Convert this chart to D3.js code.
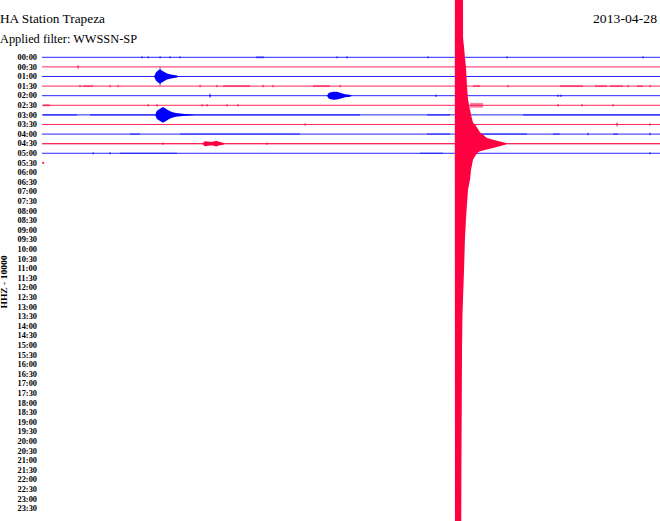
<!DOCTYPE html>
<html>
<head>
<meta charset="utf-8">
<script src="https://cdn.jsdelivr.net/npm/d3@7/dist/d3.min.js"></script>
<style>
  body { margin: 0; background: #fff; }
  text { fill: #000; }
</style>
</head>
<body>
<div id="heli"></div>
<script>
// helicorder rows, 30 minutes per line
var rowLabels = ["00:00","00:30","01:00","01:30","02:00","02:30","03:00","03:30","04:00","04:30",
  "05:00","05:30","06:00","06:30","07:00","07:30","08:00","08:30","09:00","09:30",
  "10:00","10:30","11:00","11:30","12:00","12:30","13:00","13:30","14:00","14:30",
  "15:00","15:30","16:00","16:30","17:00","17:30","18:00","18:30","19:00","19:30",
  "20:00","20:30","21:00","21:30","22:00","22:30","23:00","23:30"];

// minutes of data recorded in each row (rest of the day is empty)
var recorded = [30, 30, 30, 30, 30, 30, 30, 30, 30, 30, 30, 0.12];

// local events: [minute, half amplitude in row units]
var event0100 = [[5.44,0],[5.53,0.42],[5.63,0.63],[5.7,0.7],[5.73,1.04],[5.76,0.7],[5.83,0.6],[5.92,0.5],[6.07,0.31],[6.26,0.2],[6.55,0.1],[6.65,0]];
var event0200 = [[13.83,0],[13.93,0.31],[14.13,0.42],[14.32,0.4],[14.51,0.28],[14.71,0.16],[14.95,0.1],[15.05,0]];
var event0300 = [[5.49,0],[5.58,0.42],[5.73,0.63],[5.87,0.83],[6.02,0.63],[6.17,0.42],[6.31,0.3],[6.5,0.2],[6.94,0.1],[7.28,0.05],[7.38,0]];
var event0430 = [[7.77,0],[7.91,0.26],[8.16,0.2],[8.3,0.2],[8.45,0.3],[8.59,0.2],[8.79,0.1],[8.88,0]];

// the big one in the 04:30 row: [minute, amplitude up, amplitude down]
var quake = [[20.04,0,0],[20.05,60,60],[20.32,60,60],[20.36,60,34],[20.39,60,21.5],[20.41,60,18],
  [20.44,11,16],[20.49,10,13],[20.53,9,10],[20.58,8,7.9],[20.63,6,6.3],[20.68,4.6,4.8],
  [20.78,3.5,3.7],[20.83,3,2.7],[20.92,2.2,1.7],[21.02,2,1.3],[21.17,1.5,0.9],[21.26,1.2,0.8],
  [21.6,0.6,0.6],[21.99,0.35,0.4],[22.48,0.1,0.1],[22.57,0,0]];

// background noise bursts: [row, from minute, to minute, half amplitude]
var noiseSegs = [
  [0,10.39,10.78,0.1],
  [3,1.99,2.48,0.1],[3,8.79,10.1,0.1],[3,13.15,13.98,0.1],[3,20.92,21.26,0.1],[3,25.14,26.26,0.1],
  [3,26.84,27.43,0.1],[3,27.57,28.2,0.1],[3,28.88,29.17,0.1],
  [5,0.05,0.39,0.1],[5,20.78,21.41,0.25],
  [6,0.05,1.7,0.09],[6,2.33,5.49,0.09],[6,6.5,15.44,0.09],[6,18.69,19.8,0.09],[6,23.35,24.17,0.09],[6,24.17,30,0.09],
  [8,4.27,4.76,0.08],[8,6.7,12.52,0.08],[8,18.69,19.8,0.08],[8,21.26,23.54,0.08],[8,24.8,25.14,0.08],[8,27.72,27.96,0.08],
  [9,0,30,0.07],
  [10,3.79,6.55,0.07],[10,18.35,19.47,0.07]
];

// isolated spikes: [row, minute, half amplitude]
var spikes = [
  [0,4.85,0.1],[0,5.15,0.1],[0,5.73,0.1],[0,6.21,0.1],[0,6.7,0.1],[0,14.32,0.1],[0,14.8,0.1],[0,18.74,0.1],[0,22.57,0.1],[0,29.17,0.1],
  [1,1.75,0.18],
  [3,1.84,0.12],[3,3.3,0.12],[3,3.69,0.12],[3,7.67,0.12],[3,8.49,0.12],[3,10.73,0.12],[3,11.21,0.12],[3,14.47,0.12],[3,22.62,0.12],[3,28.45,0.12],[3,29.51,0.12],
  [4,8.15,0.2],[4,19.13,0.12],[4,25.05,0.12],[4,25.19,0.12],
  [5,5.15,0.12],[5,5.58,0.12],[5,7.77,0.12],[5,8.01,0.12],[5,8.98,0.12],[5,9.51,0.12],[5,25.05,0.12],[5,26.21,0.12],[5,27.72,0.12],
  [7,12.77,0.12],[7,27.91,0.2],[7,29.51,0.12],
  [8,26.5,0.12],[8,29.51,0.12],
  [9,5.87,0.12],[9,10.92,0.12],
  [10,2.48,0.1],[10,3.3,0.1],[10,29.51,0.1],
  [11,0.05,0.12]
];

var width = 660, height = 521;
var blue = "#0000ff", red = "#ff0040";

var svg = d3.select("#heli").append("svg")
    .attr("width", width)
    .attr("height", height);

var x = d3.scaleLinear().domain([0, 30]).range([42, 660]);
var y = d3.scaleLinear().domain([0, 47]).range([57.3, 508.4]);
var step = y(1) - y(0);

function rowColor(r) {
    return r % 2 ? red : blue;
}

// header
svg.append("text")
    .attr("x", 0).attr("y", 22.5)
    .attr("font-family", "Liberation Serif")
    .attr("font-size", 13)
    .attr("textLength", 105)
    .attr("lengthAdjust", "spacingAndGlyphs")
    .text("HA Station Trapeza");

svg.append("text")
    .attr("x", 0).attr("y", 42.5)
    .attr("font-family", "Liberation Serif")
    .attr("font-size", 13)
    .attr("textLength", 137)
    .attr("lengthAdjust", "spacingAndGlyphs")
    .text("Applied filter: WWSSN-SP");

svg.append("text")
    .attr("x", 593).attr("y", 22.5)
    .attr("font-family", "Liberation Serif")
    .attr("font-size", 13)
    .attr("textLength", 64)
    .attr("lengthAdjust", "spacingAndGlyphs")
    .text("2013-04-28");

// row labels
svg.append("g").selectAll("text")
    .data(rowLabels)
    .enter().append("text")
    .attr("x", 37)
    .attr("y", function(d, i) { return y(i); })
    .attr("dy", "0.35em")
    .attr("text-anchor", "end")
    .attr("font-family", "Liberation Serif")
    .attr("font-weight", "bold")
    .attr("font-size", 8)
    .attr("textLength", 19.5)
    .attr("lengthAdjust", "spacingAndGlyphs")
    .text(function(d) { return d; });

svg.append("text")
    .attr("transform", "translate(7,282) rotate(-90)")
    .attr("text-anchor", "middle")
    .attr("font-family", "Liberation Serif")
    .attr("font-weight", "bold")
    .attr("font-size", 8)
    .attr("textLength", 53)
    .attr("lengthAdjust", "spacingAndGlyphs")
    .text("HHZ - 10000");

// base traces
svg.append("g").selectAll("line")
    .data(recorded)
    .enter().append("line")
    .attr("x1", x(0))
    .attr("x2", function(d) { return x(d); })
    .attr("y1", function(d, i) { return y(i); })
    .attr("y2", function(d, i) { return y(i); })
    .attr("stroke", function(d, i) { return rowColor(i); })
    .attr("stroke-opacity", 0.85)
    .attr("stroke-width", 1);

// noise
svg.append("g").selectAll("rect")
    .data(noiseSegs)
    .enter().append("rect")
    .attr("x", function(d) { return x(d[1]); })
    .attr("width", function(d) { return x(d[2]) - x(d[1]); })
    .attr("y", function(d) { return y(d[0]) - d[3] * step; })
    .attr("height", function(d) { return 2 * d[3] * step; })
    .attr("fill", function(d) { return rowColor(d[0]); })
    .attr("opacity", 0.5);

svg.append("g").selectAll("rect")
    .data(spikes)
    .enter().append("rect")
    .attr("x", function(d) { return x(d[1]) - 0.5; })
    .attr("width", 1.2)
    .attr("y", function(d) { return y(d[0]) - d[2] * step; })
    .attr("height", function(d) { return 2 * d[2] * step; })
    .attr("fill", function(d) { return rowColor(d[0]); })
    .attr("opacity", 0.8);

// events
var events = [
    { row: 2, pts: event0100 },
    { row: 4, pts: event0200 },
    { row: 6, pts: event0300 },
    { row: 9, pts: event0430 }
];

svg.append("g").selectAll("path")
    .data(events)
    .enter().append("path")
    .attr("d", function(e) {
        return d3.area()
            .x(function(d) { return x(d[0]); })
            .y0(function(d) { return y(e.row) + d[1] * step; })
            .y1(function(d) { return y(e.row) - d[1] * step; })(e.pts);
    })
    .attr("fill", function(e) { return rowColor(e.row); });

var quakeRow = 9;
svg.append("path")
    .datum(quake)
    .attr("d", d3.area()
        .x(function(d) { return x(d[0]); })
        .y0(function(d) { return y(quakeRow) + d[2] * step; })
        .y1(function(d) { return y(quakeRow) - d[1] * step; }))
    .attr("fill", red);
</script>
</body>
</html>
